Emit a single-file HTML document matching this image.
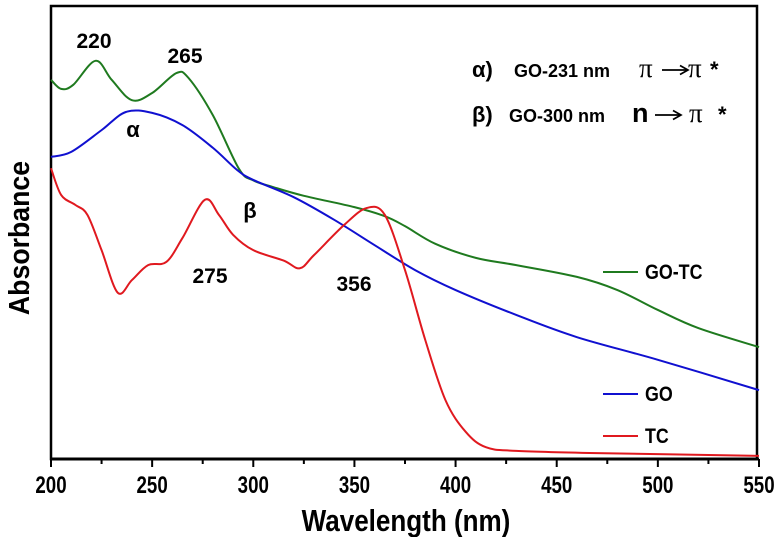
<!DOCTYPE html>
<html><head><meta charset="utf-8"><style>
html,body{margin:0;padding:0;background:#fff;}
svg{display:block;font-family:"Liberation Sans",sans-serif;font-weight:bold;}
</style></head><body>
<svg id="chart" width="783" height="537" viewBox="0 0 783 537" xmlns="http://www.w3.org/2000/svg">
<g id="plot"></g>
</svg>
<script>
const xTicks = [200,250,300,350,400,450,500,550];
const goTcWl = [200,205,211,222,230,240,250,262,268,280,293,300,310,325,350,365,375,390,410,430,460,480,500,520,550];
const goTcAbs = [0.837,0.817,0.826,0.879,0.837,0.792,0.808,0.852,0.841,0.759,0.640,0.615,0.600,0.581,0.556,0.536,0.514,0.475,0.444,0.428,0.402,0.373,0.329,0.289,0.247];
const goWl = [200,210,225,237,250,265,280,292,300,320,340,360,380,400,430,460,500,550];
const goAbs = [0.667,0.678,0.726,0.766,0.764,0.737,0.687,0.638,0.616,0.578,0.528,0.472,0.417,0.373,0.318,0.269,0.219,0.152];
const tcWl = [200,205,212,218,225,233,240,248,257,265,276,283,290,300,315,323,330,345,356,365,375,385,395,405,415,430,470,550];
const tcAbs = [0.642,0.583,0.561,0.539,0.461,0.367,0.395,0.428,0.435,0.488,0.572,0.539,0.495,0.461,0.438,0.421,0.450,0.517,0.554,0.539,0.417,0.263,0.130,0.060,0.026,0.018,0.013,0.007];

const X0=51,X1=759,Y0=459,Y1=6;
const sx=w=>X0+(w-200)/350*(X1-X0);
const sy=a=>Y0-a*(Y0-Y1);
const NS="http://www.w3.org/2000/svg";
const g=document.getElementById('plot');
function mk(tag,attrs,parent){const e=document.createElementNS(NS,tag);for(const k in attrs)e.setAttribute(k,attrs[k]);(parent||g).appendChild(e);return e;}
function smooth(xs,ys){
  const p=xs.map((w,i)=>[sx(w),sy(ys[i])]);
  let d=`M${p[0][0]},${p[0][1]}`;
  for(let i=0;i<p.length-1;i++){
    const p0=p[i-1]||p[i],p1=p[i],p2=p[i+1],p3=p[i+2]||p2;
    const c1=[p1[0]+(p2[0]-p0[0])/6,p1[1]+(p2[1]-p0[1])/6];
    const c2=[p2[0]-(p3[0]-p1[0])/6,p2[1]-(p3[1]-p1[1])/6];
    d+=` C${c1[0]},${c1[1]} ${c2[0]},${c2[1]} ${p2[0]},${p2[1]}`;
  }
  return d;
}
function ntext(s,x,y,size,sc,anchor,rot,parent){
  const t=mk('text',{x:0,y:0,'text-anchor':anchor||'middle','font-size':size,
    transform:`translate(${x},${y})${rot?' rotate('+rot+')':''} scale(${sc},1)`},parent);
  t.textContent=s;
  return t;
}
const frame=mk('rect',{x:X0,y:Y1,width:X1-X0-2,height:Y0-Y1,fill:'none',stroke:'#000','stroke-width':2.5});


const ax=mk('line',{x1:X0,y1:Y0,x2:X1,y2:Y0,stroke:'#000','stroke-width':3});


for(let w=200;w<=550;w+=25){
  const major=xTicks.includes(w);
  const t=mk('line',{x1:sx(w),y1:Y0,x2:sx(w),y2:Y0+(major?8:5),stroke:'#000','stroke-width':2});
  
  
}
xTicks.forEach(w=>{
  const t=ntext(String(w),sx(w),493,24,0.78);
  
  
});
const xt=ntext('Wavelength (nm)',406,531,31,0.84);


const yt=ntext('Absorbance',29,238,29,0.92,'middle',-90);


const series=[['go-tc-line',goTcWl,goTcAbs,'#1f7a1f'],['go-line',goWl,goAbs,'#1010d0'],['tc-line',tcWl,tcAbs,'#e0191f']];
series.forEach(([n,xs,ys,c])=>{
  const p=mk('path',{d:smooth(xs,ys),fill:'none',stroke:c,'stroke-width':2});
  
  
});
const leg=[['GO-TC',272,'#1f7a1f'],['GO',394,'#1010d0'],['TC',436,'#e0191f']];
leg.forEach(([lab,y,c])=>{
  const l=mk('line',{x1:603,y1:y,x2:638,y2:y,stroke:c,'stroke-width':2});
  
  
  const t=ntext(lab,645,y+7,21,0.85,'start');
  
  
});
const ann=[['220',94,48,21],['265',185,63,21],['α',133,137,22],['β',250,218,22],['275',210,283,21],['356',354,291,21]];
ann.forEach(([s,x,y,f])=>{
  const t=mk('text',{x:x,y:y,'text-anchor':'middle','font-size':f});
  t.textContent=s;
  
  
});
const notes=[
  ['alpha-transition-note',77,[['α)',472,'',22],['GO-231 nm',514,'',18],['π',639,'s',27],['π',688,'s',27],['*',710,'',22]],662],
  ['beta-transition-note',122,[['β)',472,'',22],['GO-300 nm',509,'',18],['n',632,'',27],['π',689,'s',27],['*',718,'',22]],655]
];
notes.forEach(([name,y,parts,ax0])=>{
  const grp=mk('g',{});
  
  
  parts.forEach(([s,x,f,size])=>{
    const t=mk('text',{x:x,y:y,'font-size':size},grp);
    if(f==='s'){t.setAttribute('font-family','Liberation Serif, serif');t.setAttribute('font-weight','normal');}
    t.textContent=s;
  });
  const ay=y-7;
  mk('line',{x1:ax0,y1:ay,x2:ax0+25,y2:ay,stroke:'#000','stroke-width':1.7},grp);
  mk('path',{d:`M${ax0+18},${ay-4.5} L${ax0+26},${ay} L${ax0+18},${ay+4.5}`,fill:'none',stroke:'#000','stroke-width':1.7},grp);
});
</script>
</body></html>
